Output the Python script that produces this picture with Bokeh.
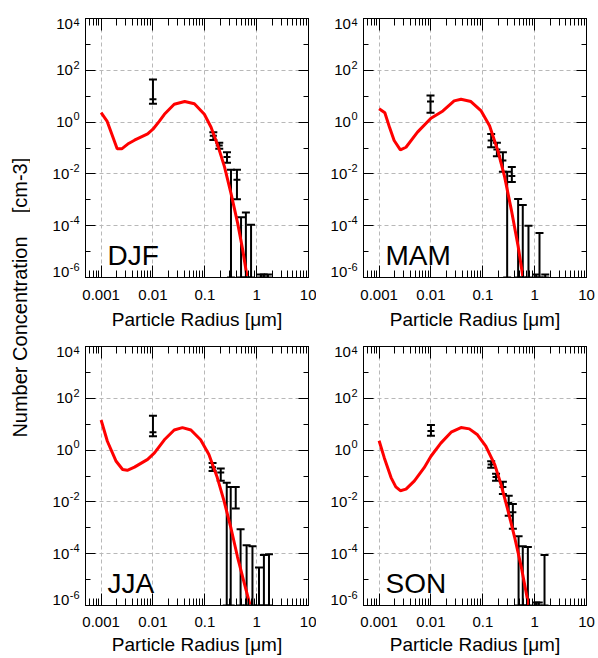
import math
from bokeh.plotting import figure
from bokeh.models import Range1d, FixedTicker, LogAxis, Label
from bokeh.layouts import row, column
from bokeh.embed import file_html
from bokeh.resources import INLINE
from bokeh.core.properties import value

NAN = float("nan")
FLOOR = 1e-6

seasons = ["DJF", "MAM", "JJA", "SON"]

# ---- model curves: radius [um], number concentration [cm-3]
djf_r = [0.001, 0.0013, 0.00204, 0.0025, 0.0034, 0.0044, 0.0079, 0.010, 0.0132, 0.0166, 0.0257,
         0.041, 0.063, 0.098, 0.132, 0.178, 0.24, 0.32, 0.43, 0.537, 0.65]
djf_n = [2.3, 1.1, 0.093, 0.093, 0.15, 0.2, 0.35, 0.53, 1.07, 2.0, 4.9,
         6.2, 5.1, 2.0, 0.63, 0.126, 0.0186, 0.00178, 1.26e-4, 1.2e-5, 1.15e-6]

mam_r = [0.001, 0.00129, 0.0016, 0.00195, 0.00257, 0.0033, 0.0055, 0.010, 0.017, 0.028, 0.038,
         0.059, 0.093, 0.135, 0.195, 0.263, 0.355, 0.48, 0.59]
mam_n = [3.3, 2.3, 0.6, 0.195, 0.085, 0.107, 0.41, 1.4, 2.7, 6.6, 7.6,
         6.2, 2.7, 0.72, 0.079, 0.0078, 4.1e-4, 1.6e-5, 1.15e-6]

jja_r = [0.001, 0.00132, 0.00195, 0.0026, 0.0032, 0.0044, 0.0079, 0.0107, 0.0166, 0.0257, 0.037,
         0.054, 0.083, 0.12, 0.174, 0.234, 0.316, 0.427, 0.575, 0.74]
jja_n = [14.5, 2.2, 0.37, 0.178, 0.166, 0.22, 0.44, 0.78, 2.5, 6.0, 7.4,
         6.0, 2.5, 0.68, 0.087, 0.0112, 0.00107, 7.6e-5, 7.4e-6, 1.1e-6]

son_r = [0.001, 0.00126, 0.0017, 0.0021, 0.00257, 0.0033, 0.0048, 0.0074, 0.010, 0.0155, 0.0245,
         0.038, 0.055, 0.079, 0.115, 0.17, 0.224, 0.30, 0.41, 0.55, 0.76]
son_n = [2.3, 0.5, 0.087, 0.038, 0.027, 0.031, 0.065, 0.21, 0.58, 1.86, 4.9,
         7.4, 6.6, 3.9, 1.38, 0.275, 0.048, 0.0054, 4.4e-4, 3.2e-5, 1.07e-6]

# ---- observations: radius, mean, lower, upper (NaN mean = not shown)
djf_x = [0.01, 0.146, 0.19, 0.268, 0.32, 0.417, 0.50, 0.62, 0.78, 1.21, 1.37, 1.65]
djf_m = [7.6, 0.30, 0.126, 0.045, NAN, 0.006, NAN, NAN, NAN, NAN, NAN, NAN]
djf_lo = [5.1, 0.204, 0.093, 0.027, FLOOR, 0.00105, FLOOR, FLOOR, FLOOR, FLOOR, FLOOR, FLOOR]
djf_hi = [44, 0.41, 0.158, 0.068, 0.0145, 0.0145, 2.1e-4, 3.2e-4, 1.1e-4, 1.3e-6, 1.3e-6, 1.3e-6]

mam_x = [0.0098, 0.145, 0.187, 0.244, 0.295, 0.363, 0.48, 0.59, 0.76, 1.07, 1.24, 1.6]
mam_m = [6.2, 0.195, 0.087, 0.033, NAN, 0.0083, NAN, NAN, NAN, NAN, NAN, NAN]
mam_lo = [2.3, 0.107, 0.048, 0.012, FLOOR, 0.0049, FLOOR, FLOOR, FLOOR, FLOOR, FLOOR, FLOOR]
mam_hi = [10.7, 0.35, 0.158, 0.069, 0.012, 0.0186, 1.07e-3, 6.3e-4, 1.0e-4, 1.3e-6, 5.2e-5, 1.3e-6]

jja_x = [0.01, 0.141, 0.203, 0.265, 0.316, 0.395, 0.49, 0.64, 0.83, 1.11, 1.38, 1.73]
jja_m = [4.9, 0.22, 0.135, NAN, NAN, NAN, NAN, NAN, NAN, NAN, NAN, NAN]
jja_lo = [3.4, 0.155, 0.065, FLOOR, FLOOR, 0.0056, FLOOR, FLOOR, FLOOR, FLOOR, FLOOR, FLOOR]
jja_hi = [21.4, 0.32, 0.195, 0.055, 0.038, 0.038, 8.7e-4, 2.1e-4, 1.95e-4, 2.95e-5, 8.9e-5, 9.5e-5]

son_x = [0.01, 0.145, 0.18, 0.244, 0.316, 0.38, 0.49, 0.59, 0.74, 1.07, 1.2, 1.55]
son_m = [5.5, 0.28, 0.091, 0.038, 0.0091, 0.004, NAN, NAN, NAN, NAN, NAN, NAN]
son_lo = [3.6, 0.21, 0.065, 0.020, 0.00295, 0.00091, FLOOR, FLOOR, FLOOR, FLOOR, FLOOR, FLOOR]
son_hi = [9.3, 0.37, 0.123, 0.060, 0.0174, 0.0083, 4.7e-4, 1.95e-4, 1.8e-4, 1.3e-6, 1.3e-6, 8.9e-5]

# ---- axes
x_ticks = [0.001, 0.01, 0.1, 1, 10]
x_tick_labels = ["0.001", "0.01", "0.1", "1", "10"]
y_ticks = [1e-6, 1e-4, 1e-2, 1, 1e2, 1e4]
y_tick_base = ["10", "10", "10", "10", "10", "10"]
y_tick_exps = ["-6", "-4", "-2", "0", "2", "4"]
y_minor = [1e-5, 1e-3, 1e-1, 1e1, 1e3]
x_minor = [k * 10.0 ** e for e in range(-4, 1) for k in range(2, 10)]

x_label = "Particle Radius [\u03bcm]"
y_label_a = "Number Concentration"
y_label_b = "[cm-3]"

FONT = "Liberation Sans"
X0, X1 = 0.0005, 10
Y0, Y1 = 1e-6, 1e4

panels = [
    (djf_r, djf_n, djf_x, djf_m, djf_lo, djf_hi),
    (mam_r, mam_n, mam_x, mam_m, mam_lo, mam_hi),
    (jja_r, jja_n, jja_x, jja_m, jja_lo, jja_hi),
    (son_r, son_n, son_x, son_m, son_lo, son_hi),
]

# (width, height, left, right, top, bottom, tick-label standoff, axis-label standoff)
geom = [
    (235, 334, 4, 8, 18, 57, 12, 6),
    (239, 334, 4, 12, 18, 57, 12, 6),
    (235, 324, 4, 8, 12, 53, 11, 4),
    (239, 324, 4, 12, 12, 53, 11, 4),
]
label_widths = [51, 43, 51, 43]


def exp_width(s, size=11):
    return sum(0.333 if c == "-" else 0.556 for c in s) * size


def make_panel(i):
    r, n, ox, om, olo, ohi = panels[i]
    w, h, bl, br, bt, bb, tso, lso = geom[i]
    p = figure(width=w, height=h, x_axis_type="log", y_axis_type="log",
               x_range=Range1d(X0, X1), y_range=Range1d(Y0, Y1),
               toolbar_location=None, output_backend="svg",
               min_border_left=bl, min_border_right=br,
               min_border_top=bt, min_border_bottom=bb)
    p.outline_line_color = "black"
    p.background_fill_color = "white"
    p.border_fill_color = "white"

    xt = FixedTicker(ticks=x_ticks, minor_ticks=x_minor)
    yt = FixedTicker(ticks=y_ticks, minor_ticks=y_minor)

    for ax in p.xaxis:
        ax.ticker = xt
        ax.major_label_overrides = dict(zip(x_ticks, x_tick_labels))
        ax.axis_label = x_label
        ax.major_tick_in = 12
        ax.minor_tick_in = 7
        ax.major_label_standoff = tso
        ax.axis_label_standoff = lso
        ax.major_label_text_font = FONT
        ax.major_label_text_font_size = "15px"
        ax.major_label_text_color = "black"
        ax.axis_label_text_font = FONT
        ax.axis_label_text_font_size = "19px"
        ax.axis_label_text_font_style = "normal"
        ax.axis_label_text_color = "black"
    for ax in p.yaxis:
        ax.ticker = yt
        ax.major_tick_in = 10
        ax.minor_tick_in = 5
        ax.major_label_text_font_size = "2px"
        ax.major_label_text_alpha = 0
        ax.major_label_standoff = 0
    for ax in list(p.xaxis) + list(p.yaxis):
        ax.axis_line_color = "black"
        ax.major_tick_out = 0
        ax.minor_tick_out = 0
        ax.major_tick_line_color = "black"
        ax.minor_tick_line_color = "black"

    top = LogAxis(ticker=xt, major_tick_in=12, minor_tick_in=7, major_tick_out=0, minor_tick_out=0,
                  major_label_text_font_size="2px", major_label_text_alpha=0, major_label_standoff=0,
                  axis_line_color="black", major_tick_line_color="black", minor_tick_line_color="black")
    right = LogAxis(ticker=yt, major_tick_in=10, minor_tick_in=5, major_tick_out=0, minor_tick_out=0,
                    major_label_text_font_size="2px", major_label_text_alpha=0, major_label_standoff=0,
                    axis_line_color="black", major_tick_line_color="black", minor_tick_line_color="black")
    p.add_layout(top, "above")
    p.add_layout(right, "right")

    p.xgrid.grid_line_color = "#b8b8b8"
    p.ygrid.grid_line_color = "#b8b8b8"
    p.xgrid.grid_line_dash = "4 3"
    p.ygrid.grid_line_dash = "4 3"
    p.xgrid.grid_line_width = 1
    p.ygrid.grid_line_width = 1

    # observations with error bars
    p.segment(x0=ox, y0=olo, x1=ox, y1=ohi, line_color="black", line_width=2)
    p.scatter(x=ox, y=olo, marker="dash", size=8, line_color="black", line_width=2)
    p.scatter(x=ox, y=ohi, marker="dash", size=8, line_color="black", line_width=2)
    p.scatter(x=ox, y=om, marker="dash", size=7, line_color="black", line_width=2)

    # model curve
    p.line(r, n, line_color="#ff0000", line_width=3)

    p.add_layout(Label(x=0.00133, y=6.9e-6, text=seasons[i], text_font=FONT,
                       text_font_size="28px", text_color="black",
                       text_align="left", text_baseline="alphabetic"))
    return p


def make_ticklabels(i):
    # narrow figure holding the y tick labels; its frame lines up with the panel frame
    w = label_widths[i]
    _, h, _, _, bt, bb, _, _ = geom[i]
    f = figure(width=w, height=h, x_range=Range1d(0, w), y_range=Range1d(Y0, Y1),
               y_axis_type="log", toolbar_location=None, output_backend="svg",
               min_border_left=0, min_border_right=0, min_border_top=bt, min_border_bottom=bb,
               x_axis_location=None, y_axis_location=None)
    f.outline_line_color = None
    f.grid.visible = False
    f.background_fill_color = "white"
    base_off, exp_off = [], []
    for t in y_ticks:
        if t == Y1:
            base_off.append(5.9)
            exp_off.append(3.5)
        elif t == Y0:
            base_off.append(-5.8)
            exp_off.append(-10.8)
        else:
            base_off.append(0.0)
            exp_off.append(-5.8)
    xs = [w - 2] * len(y_ticks)
    f.text(x=xs, y=y_ticks, text=y_tick_exps, y_offset=exp_off,
           text_align="right", text_baseline="middle",
           text_font=value(FONT), text_font_size="11px", text_color="black")
    f.text(x=xs, y=y_ticks, text=y_tick_base, y_offset=base_off,
           x_offset=[-(exp_width(e) + 0.5) for e in y_tick_exps],
           text_align="right", text_baseline="middle",
           text_font=value(FONT), text_font_size="15px", text_color="black")
    return f


plots = [make_panel(i) for i in range(4)]
ticklabs = [make_ticklabels(i) for i in range(4)]

lab = figure(width=30, height=658, x_range=Range1d(0, 30), y_range=Range1d(0, 658),
             toolbar_location=None, output_backend="svg", min_border=0,
             x_axis_location=None, y_axis_location=None)
lab.outline_line_color = None
lab.grid.visible = False
lab.add_layout(Label(x=19, y=321.5, text=y_label_a, angle=math.pi / 2, text_font=FONT,
                     text_font_size="20px", text_color="black",
                     text_align="center", text_baseline="alphabetic"))
lab.add_layout(Label(x=19, y=473, text=y_label_b, angle=math.pi / 2, text_font=FONT,
                     text_font_size="20px", text_color="black",
                     text_align="center", text_baseline="alphabetic"))

layout = row(lab, column(row(ticklabs[0], plots[0], ticklabs[1], plots[1]),
                         row(ticklabs[2], plots[2], ticklabs[3], plots[3])))

open("out.html", "w").write(file_html(layout, INLINE))
